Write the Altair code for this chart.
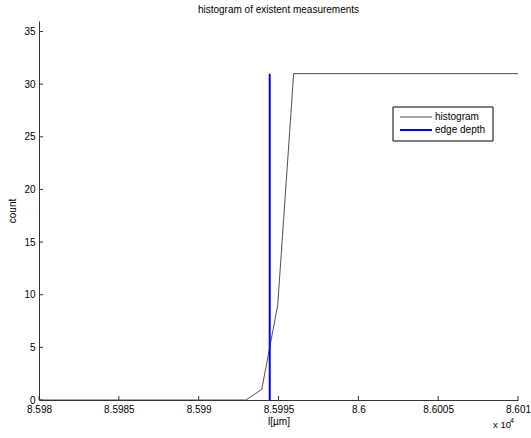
import altair as alt
import pandas as pd

# histogram (cumulative-looking) series
hist_x = [85980, 85992.95, 85993.95, 85994.95, 85995.95, 86010]
hist_count = [0, 0, 1, 9, 31, 31]
# edge depth vertical marker
edge_x = [85994.45, 85994.45]
edge_y = [0, 31]

x_ticks = [85980, 85985, 85990, 85995, 86000, 86005, 86010]
y_ticks = [0, 5, 10, 15, 20, 25, 30, 35]

series_names = ["histogram", "edge depth"]
series_colors = ["#222222", "#0000ff"]
series_widths = [0.8, 2]

FONT = "Liberation Sans"

rows = []
for i, (xv, yv) in enumerate(zip(hist_x, hist_count)):
    rows.append({"x": xv, "y": yv, "series": "histogram", "ord": i})
for i, (xv, yv) in enumerate(zip(edge_x, edge_y)):
    rows.append({"x": xv, "y": yv, "series": "edge depth", "ord": i})
df = pd.DataFrame(rows)

xscale = alt.Scale(domain=[85980, 86010], nice=False, zero=False)
yscale = alt.Scale(domain=[0, 36], nice=False)

lines = alt.Chart(df).mark_line(clip=True).encode(
    x=alt.X("x:Q", scale=xscale,
            axis=alt.Axis(values=x_ticks, title="l[µm]", ticks=False, grid=False,
                          labelExpr="format(datum.value/10000, '.5~f')",
                          labelFont=FONT, labelFontSize=10, labelColor="black",
                          labelPadding=4, titleFont=FONT, titleFontSize=10,
                          titleFontWeight="normal", titleColor="black", titlePadding=2,
                          domainColor="#333", labelFlush=False)),
    y=alt.Y("y:Q", scale=yscale,
            axis=alt.Axis(values=y_ticks, title="count", ticks=False, grid=False,
                          labelFont=FONT, labelFontSize=10, labelColor="black",
                          labelPadding=4, titleFont=FONT, titleFontSize=10,
                          titleFontWeight="normal", titleColor="black", titlePadding=6,
                          domainColor="#333")),
    color=alt.Color("series:N", scale=alt.Scale(domain=series_names, range=series_colors),
                    legend=None),
    strokeWidth=alt.StrokeWidth("series:N", scale=alt.Scale(domain=series_names, range=series_widths),
                                legend=None),
    order="ord:Q",
)

xt = pd.DataFrame({"v": x_ticks})
yt = pd.DataFrame({"v": y_ticks})

xtick_marks = alt.Chart(xt).mark_rule(color="#333", strokeWidth=1).encode(
    x=alt.X("v:Q", scale=xscale),
    y=alt.value(379), y2=alt.value(375),
)
ytick_marks = alt.Chart(yt).mark_rule(color="#333", strokeWidth=1).encode(
    y=alt.Y("v:Q", scale=yscale),
    x=alt.value(0), x2=alt.value(4),
)

# manual legend
one = pd.DataFrame({"k": [0]})
leg_box = alt.Chart(one).mark_rect(fill="white", stroke="black", strokeWidth=1).encode(
    x=alt.value(354), x2=alt.value(454), y=alt.value(86), y2=alt.value(120)
)
leg_df = pd.DataFrame({"name": series_names, "ypos": [96, 109]})
leg_lines = []
leg_texts = []
for name, col, w, yp in zip(series_names, series_colors, series_widths, [96, 109]):
    leg_lines.append(alt.Chart(one).mark_rule(color=col, strokeWidth=w).encode(
        x=alt.value(361), x2=alt.value(393), y=alt.value(yp)))
    leg_texts.append(alt.Chart(pd.DataFrame({"t": [name]})).mark_text(
        font=FONT, fontSize=10, color="black", align="left", baseline="middle"
    ).encode(x=alt.value(396), y=alt.value(yp), text="t:N"))

exp_base = alt.Chart(pd.DataFrame({"t": ["x 10"]})).mark_text(
    font=FONT, fontSize=9.5, color="black", align="left", baseline="alphabetic"
).encode(x=alt.value(454), y=alt.value(407), text="t:N")
exp_sup = alt.Chart(pd.DataFrame({"t": ["4"]})).mark_text(
    font=FONT, fontSize=7, color="black", align="left", baseline="alphabetic"
).encode(x=alt.value(471), y=alt.value(402), text="t:N")

chart = alt.layer(lines, xtick_marks, ytick_marks, leg_box, *leg_lines, *leg_texts,
                  exp_base, exp_sup).properties(
    width=479, height=379,
    autosize=alt.AutoSizeParams(type="none"),
    padding={"left": 39, "top": 21, "right": 13, "bottom": 38},
    title=alt.TitleParams("histogram of existent measurements", font=FONT, fontSize=10,
                          fontWeight="normal", color="black", offset=6),
    background="white",
).configure_view(stroke=None)

chart.save("out.html", embed_options={"renderer": "svg", "actions": False})
